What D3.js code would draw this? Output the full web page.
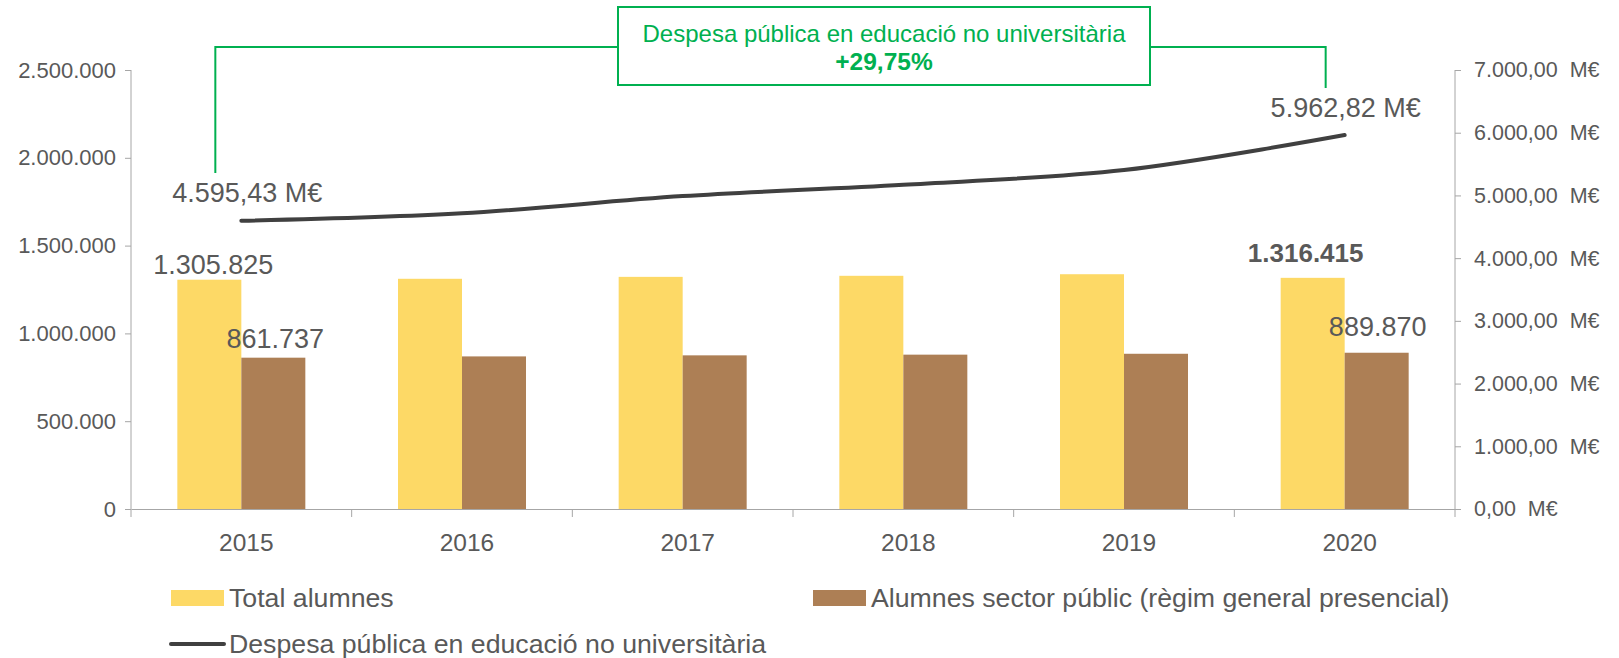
<!DOCTYPE html>
<html>
<head>
<meta charset="utf-8">
<script src="https://cdn.jsdelivr.net/npm/d3@7"></script>
<style>
  body { margin: 0; background: #fff; }
  svg { display: block; font-family: "Liberation Sans", Arial, sans-serif; }
  .axis path, .axis line { stroke: #a6a6a6; }
  .axis text { fill: #595959; }
</style>
</head>
<body>
<svg width="1619" height="658"></svg>
<script>
// chart data
var years = ["2015", "2016", "2017", "2018", "2019", "2020"];
var totalAlumnes = [1305825, 1311000, 1322000, 1328000, 1337000, 1316415];
var alumnesPublic = [861737, 869000, 875000, 879000, 884000, 889870];
var despesa = [4595.43, 4715, 4990, 5170, 5405, 5962.82];
var leftTicks = [0, 500000, 1000000, 1500000, 2000000, 2500000];
var rightTicks = [0, 1000, 2000, 3000, 4000, 5000, 6000, 7000];
var seriesNames = ["Total alumnes", "Alumnes sector públic (règim general presencial)", "Despesa pública en educació no universitària"];
var annotationTitle = "Despesa pública en educació no universitària";
var annotationValue = "+29,75%";

(function () {
    var margin = { top: 70, right: 164, bottom: 149, left: 131 };
    var svg = d3.select("svg");
    var width = +svg.attr("width") - margin.left - margin.right;
    var height = +svg.attr("height") - margin.top - margin.bottom;

    var yellow = "#fdd966", brown = "#ad7f55", lineCol = "#404040", green = "#00b050", txt = "#595959";

    var fmtInt = function (v) { return d3.format(",")(v).replace(/,/g, "."); };
    var fmtEur = function (v) {
        var s = d3.format(",.2f")(v);
        return s.replace(/,/g, "#").replace(".", ",").replace(/#/g, ".");
    };

    var x = d3.scaleBand().domain(years).range([0, width]);
    var x1 = d3.scaleBand().domain(["t", "p"]).range([0, x.bandwidth()]).paddingOuter(0.724);
    var y = d3.scaleLinear().domain([0, 2500000]).range([height, 0]);
    var y2 = d3.scaleLinear().domain([0, 7000]).range([height, 0]);

    var g = svg.append("g")
        .attr("transform", "translate(" + margin.left + "," + margin.top + ")");

    // axes
    var gl = g.append("g").attr("class", "axis")
        .call(d3.axisLeft(y).tickValues(leftTicks).tickSize(6).tickFormat(fmtInt));
    gl.selectAll("text").attr("font-size", 22).attr("x", -15);

    var gr = g.append("g").attr("class", "axis")
        .attr("transform", "translate(" + width + ",0)")
        .call(d3.axisRight(y2).tickValues(rightTicks).tickSize(6).tickFormat(function (d) { return fmtEur(d) + "\u00a0 M€"; }));
    gr.selectAll("text").attr("font-size", 21.5).attr("x", 19);

    var gx = g.append("g").attr("class", "axis")
        .attr("transform", "translate(0," + height + ")")
        .call(d3.axisBottom(x).tickSize(0).tickFormat(""));
    gx.selectAll(".tick").remove();
    gx.selectAll(".sep").data(d3.range(years.length + 1)).enter().append("line")
        .attr("x1", function (i) { return i * x.step(); })
        .attr("x2", function (i) { return i * x.step(); })
        .attr("y1", 0).attr("y2", 8)
        .attr("stroke", "#a6a6a6");
    gx.selectAll(".yl").data(years).enter().append("text")
        .attr("x", function (d) { return x(d) + x.bandwidth() / 2 + 5; })
        .attr("y", 42)
        .attr("text-anchor", "middle")
        .attr("font-size", 24.5)
        .attr("fill", txt)
        .text(function (d) { return d; });
    gl.select(".domain").attr("d", "M0," + height + "V0");
    gr.select(".domain").attr("d", "M0," + height + "V0");

    // bars
    var grp = g.selectAll(".grp").data(years).enter().append("g")
        .attr("transform", function (d) { return "translate(" + x(d) + ",0)"; });
    grp.append("rect")
        .attr("x", x1("t")).attr("width", x1.bandwidth())
        .attr("y", function (d, i) { return y(totalAlumnes[i]); })
        .attr("height", function (d, i) { return height - y(totalAlumnes[i]); })
        .attr("fill", yellow);
    grp.append("rect")
        .attr("x", x1("p")).attr("width", x1.bandwidth())
        .attr("y", function (d, i) { return y(alumnesPublic[i]); })
        .attr("height", function (d, i) { return height - y(alumnesPublic[i]); })
        .attr("fill", brown);

    // line
    var cx = function (i) { return x(years[i]) + x.bandwidth() / 2; };
    var line = d3.line()
        .x(function (d, i) { return cx(i); })
        .y(function (d) { return y2(d); })
        .curve(d3.curveCatmullRom);
    g.append("path").datum(despesa)
        .attr("d", line)
        .attr("fill", "none")
        .attr("stroke", lineCol)
        .attr("stroke-width", 4)
        .attr("stroke-linecap", "round");

    // data labels (first and last year)
    var last = years.length - 1;
    function label(px, py, t, bold) {
        g.append("text").attr("x", px).attr("y", py)
            .attr("text-anchor", "middle")
            .attr("font-size", bold ? 26 : 27)
            .attr("font-weight", bold ? "bold" : "normal")
            .attr("fill", txt)
            .text(t);
    }
    label(x(years[0]) + x1("t") + x1.bandwidth() / 2 + 4, y(totalAlumnes[0]) - 6, fmtInt(totalAlumnes[0]));
    label(x(years[0]) + x1("p") + x1.bandwidth() / 2 + 2, y(alumnesPublic[0]) - 10, fmtInt(alumnesPublic[0]));
    label(x(years[last]) + x1("t") + x1.bandwidth() / 2 - 7, y(totalAlumnes[last]) - 16, fmtInt(totalAlumnes[last]), true);
    label(x(years[last]) + x1("p") + x1.bandwidth() / 2 + 1, y(alumnesPublic[last]) - 17, fmtInt(alumnesPublic[last]));
    label(cx(0) + 6, y2(despesa[0]) - 19, fmtEur(despesa[0]) + " M€");
    label(cx(last) + 1, y2(despesa[last]) - 18, fmtEur(despesa[last]) + " M€");

    // annotation bracket + box
    var bx0 = 618 - margin.left, bx1 = 1150 - margin.left, by0 = 7 - margin.top, by1 = 85 - margin.top;
    var hy = 47 - margin.top;
    var lx = cx(0) - 26, rx = cx(last) - 19;
    g.append("path")
        .attr("d", "M" + lx + "," + (173 - margin.top) + "V" + hy + "H" + bx0 +
            "M" + bx1 + "," + hy + "H" + rx + "V" + (88 - margin.top))
        .attr("fill", "none").attr("stroke", green).attr("stroke-width", 2);
    g.append("rect")
        .attr("x", bx0).attr("y", by0).attr("width", bx1 - bx0).attr("height", by1 - by0)
        .attr("fill", "#fff").attr("stroke", green).attr("stroke-width", 2);
    g.append("text").attr("x", (bx0 + bx1) / 2).attr("y", 42 - margin.top)
        .attr("text-anchor", "middle").attr("font-size", 24).attr("fill", green)
        .text(annotationTitle);
    g.append("text").attr("x", (bx0 + bx1) / 2).attr("y", 70 - margin.top)
        .attr("text-anchor", "middle").attr("font-size", 24.5).attr("font-weight", "bold").attr("fill", green)
        .text(annotationValue);

    // legend
    var leg = svg.append("g");
    var items = [
        { name: seriesNames[0], type: "rect", color: yellow, x: 171, y: 598 },
        { name: seriesNames[1], type: "rect", color: brown, x: 813, y: 598 },
        { name: seriesNames[2], type: "line", color: lineCol, x: 171, y: 644 }
    ];
    items.forEach(function (it) {
        if (it.type === "rect") {
            leg.append("rect").attr("x", it.x).attr("y", it.y - 8).attr("width", 53).attr("height", 16).attr("fill", it.color);
        } else {
            leg.append("line").attr("x1", it.x).attr("x2", it.x + 53).attr("y1", it.y).attr("y2", it.y)
                .attr("stroke", it.color).attr("stroke-width", 4).attr("stroke-linecap", "round");
        }
        leg.append("text").attr("x", it.x + 58).attr("y", it.y).attr("dy", "0.35em")
            .attr("font-size", 26.7).attr("fill", txt).text(it.name);
    });
}());
</script>
</body>
</html>
